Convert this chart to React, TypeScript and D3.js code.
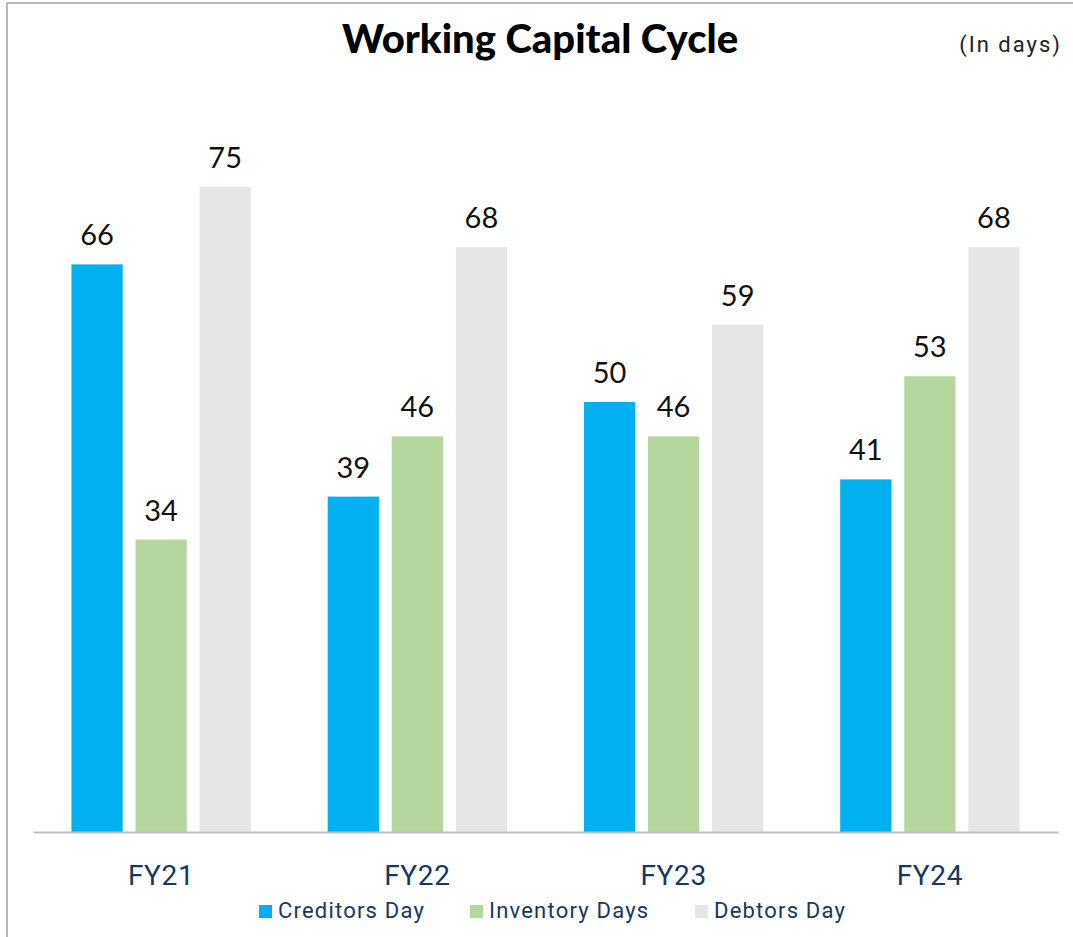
import React, { useEffect, useRef } from 'react';
import * as d3 from 'd3';

const categories = ['FY21', 'FY22', 'FY23', 'FY24'];
const seriesNames = ['Creditors Day', 'Inventory Days', 'Debtors Day'];
const creditorsDay = [66, 39, 50, 41];
const inventoryDays = [34, 46, 46, 53];
const debtorsDay = [75, 68, 59, 68];
const seriesColors = ['#00B0F0', '#B5D79E', '#E6E6E6'];

const W = 1073;
const H = 937;

export default function App() {
  const ref = useRef<SVGSVGElement>(null);

  useEffect(() => {
    const svg = d3.select(ref.current);
    svg.selectAll('*').remove();

    const seriesValues = [creditorsDay, inventoryDays, debtorsDay];
    const rows = categories.map((c, i) => ({
      cat: c,
      vals: seriesNames.map((s, j) => ({ name: s, value: seriesValues[j][i], color: seriesColors[j] })),
    }));

    const x0 = d3.scaleBand().domain(categories).range([33, 1058]).padding(0);
    const x1 = d3
      .scaleBand()
      .domain(seriesNames)
      .range([0, x0.bandwidth()])
      .paddingInner(0.2)
      .paddingOuter(0.6);
    const y = d3.scaleLinear().domain([0, 80]).range([832, 144]);

    // frame
    svg.append('line').attr('x1', 7).attr('x2', 7).attr('y1', 3).attr('y2', H)
      .attr('stroke', '#a0a0a0').attr('stroke-width', 1.5);
    svg.append('line').attr('x1', 7).attr('x2', W).attr('y1', 3).attr('y2', 3)
      .attr('stroke', '#a0a0a0').attr('stroke-width', 1.5);

    svg.append('text')
      .attr('x', 540).attr('y', 53)
      .attr('text-anchor', 'middle')
      .attr('font-family', 'Lato, sans-serif')
      .attr('font-weight', 900)
      .attr('font-size', 40)
      .attr('fill', '#000')
      .text('Working Capital Cycle');

    svg.append('text')
      .attr('x', 1062).attr('y', 52)
      .attr('text-anchor', 'end')
      .attr('font-family', 'Roboto, sans-serif')
      .attr('font-size', 22)
      .attr('letter-spacing', 2)
      .attr('fill', '#222')
      .text('(In days)');

    const groups = svg.selectAll('g.grp').data(rows).enter().append('g')
      .attr('class', 'grp')
      .attr('transform', d => `translate(${x0(d.cat)},0)`);

    groups.selectAll('rect').data(d => d.vals).enter().append('rect')
      .attr('x', d => x1(d.name)!)
      .attr('width', x1.bandwidth())
      .attr('y', d => y(d.value))
      .attr('height', d => y(0) - y(d.value))
      .attr('fill', d => d.color);

    groups.selectAll('text.lbl').data(d => d.vals).enter().append('text')
      .attr('class', 'lbl')
      .attr('x', d => x1(d.name)! + x1.bandwidth() / 2)
      .attr('y', d => y(d.value) - 19)
      .attr('text-anchor', 'middle')
      .attr('font-family', 'Lato, sans-serif')
      .attr('font-size', 29)
      .attr('fill', '#111')
      .text(d => d.value);

    // x axis
    const xAxis = svg.append('g').attr('transform', 'translate(0,832)')
      .call(d3.axisBottom(x0).tickSize(0).tickPadding(0));
    xAxis.select('.domain').attr('stroke', '#BFBFBF').attr('stroke-width', 2);
    xAxis.selectAll('.tick text')
      .attr('dy', 0)
      .attr('y', 53)
      .attr('font-family', 'Roboto, sans-serif')
      .attr('font-size', 28)
      .attr('letter-spacing', 0.6)
      .attr('fill', '#17375E');

    // legend
    const legendX = [259, 470, 695];
    const leg = svg.selectAll('g.leg').data(seriesNames).enter().append('g')
      .attr('class', 'leg')
      .attr('transform', (d, i) => `translate(${legendX[i]},905)`);
    leg.append('rect').attr('width', 13).attr('height', 13)
      .attr('fill', (d, i) => seriesColors[i]);
    leg.append('text')
      .attr('x', 19).attr('y', 12.5)
      .attr('font-family', 'Roboto, sans-serif')
      .attr('font-size', 22)
      .attr('letter-spacing', 1.2)
      .attr('fill', '#17375E')
      .text(d => d);
  }, []);

  return (
    <svg ref={ref} width={W} height={H} style={{ position: 'absolute', left: 0, top: 0, background: '#fff' }} />
  );
}
